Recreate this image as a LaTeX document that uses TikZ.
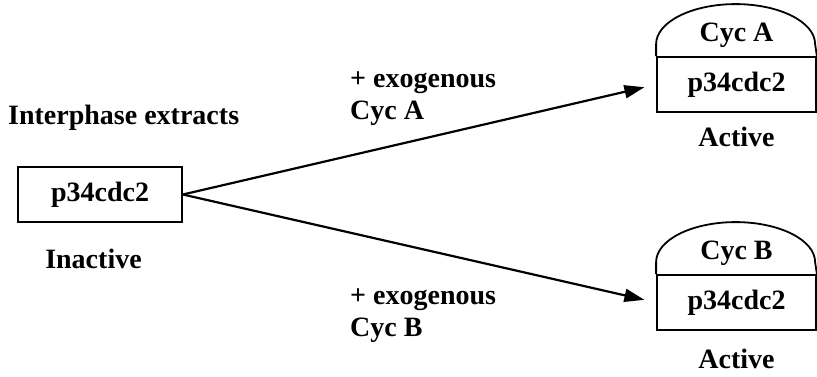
\documentclass[tikz,border=0pt]{standalone}
\usepackage{fontspec}
\setmainfont{Liberation Serif}
\usetikzlibrary{arrows.meta,positioning}

\begin{document}
\begin{tikzpicture}[x=1pt, y=-1pt, every node/.style={font=\fontsize{28}{32}\selectfont\bfseries, inner sep=0pt},
      box/.style={draw, line width=1.8pt, minimum width=164pt, minimum height=55pt},
      cdk/.style={draw, line width=1.8pt, minimum width=159pt, minimum height=55pt},
      dome/.style={line width=1.8pt},
      arr/.style={-{Triangle[length=20pt, width=13pt]}, line width=2.2pt, shorten >=12pt}]
    \useasboundingbox (0,0) rectangle (817,377);
    \node[anchor=base west] (interph) at (8,125) {Interphase extracts};
    \node[box] (p34) at (100,194.5) {p34cdc2};
    \node[below=26pt of p34, xshift=-6.5pt] (inact) {Inactive};
    \node[cdk] (actA) at (736.5,84.5) {p34cdc2};
    \node[above=8pt of actA] (cycA) {Cyc A};
    \node[below=14pt of actA] (actlabA) {Active};
    \node[cdk] (actB) at (736.5,302.5) {p34cdc2};
    \node[above=8pt of actB] (cycB) {Cyc B};
    \node[below=18pt of actB] (actlabB) {Active};
    \node[anchor=base west, align=left] (addA) at (350,120) {+ exogenous\\Cyc A};
    \node[anchor=base west, align=left] (addB) at (350,336) {+ exogenous\\Cyc B};
    \draw[dome] (actA.north west) -- ++(0,-12) .. controls +(0,-22) and +(-44,0) .. ++(79.5,-40) .. controls +(44,0) and +(0,-22) .. ++(79.5,40) -- (actA.north east);
    \draw[dome] (actB.north west) -- ++(0,-12) .. controls +(0,-22) and +(-44,0) .. ++(79.5,-40) .. controls +(44,0) and +(0,-22) .. ++(79.5,40) -- (actB.north east);
    \draw[arr] (p34.east) -- (actA.west); \draw[arr] (p34.east) -- (actB.west);
  \end{tikzpicture}
\end{document}
